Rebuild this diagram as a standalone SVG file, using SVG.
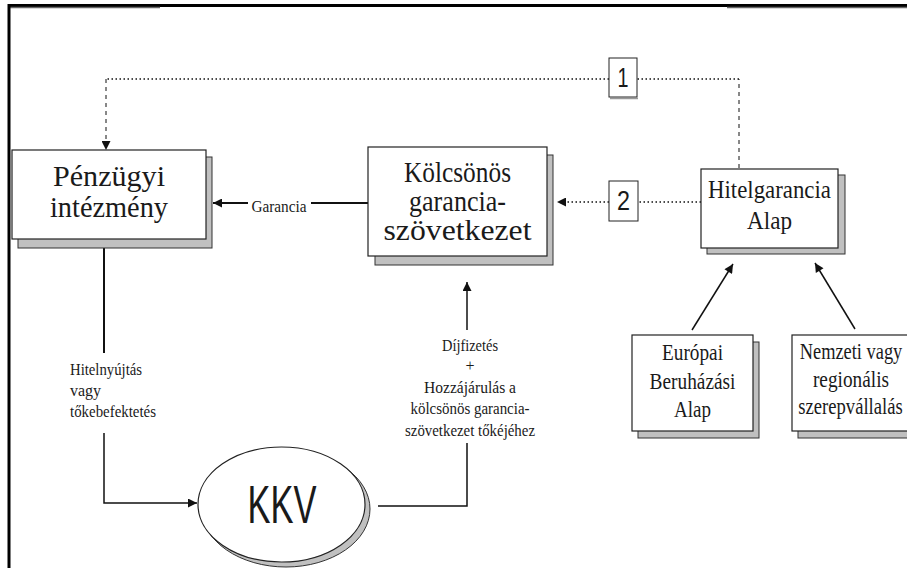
<svg xmlns="http://www.w3.org/2000/svg" width="907" height="568" viewBox="0 0 907 568">
<style>
.main{fill:#fff;stroke:#222;stroke-width:1.2}
.shad{fill:#c0c0c0;stroke:#333;stroke-width:1}
.t{fill:#1a1a1a;text-anchor:middle}
.ts{fill:#1a1a1a;text-anchor:start}
.big{font-size:29px}
.med{font-size:25px}
.sm{font-size:23px}
.lbl{font-size:16px}
.num{font-size:28px;fill:#1a1a1a;text-anchor:middle}
.kkv{font-size:53px;fill:#1a1a1a;text-anchor:middle}
.solid{fill:none;stroke:#111;stroke-width:1.5}
.thick{fill:none;stroke:#111;stroke-width:2}
.dot{fill:none;stroke:#111;stroke-width:1.5;stroke-dasharray:1.5 2.5}
.dash{fill:none;stroke:#111;stroke-width:1;stroke-dasharray:4 4}
</style>
<defs>
<marker id="ah" viewBox="0 0 10 10" refX="10" refY="5" markerWidth="11" markerHeight="9" markerUnits="userSpaceOnUse" orient="auto">
<path d="M0,0 L10,5 L0,10 z" fill="#111" stroke="none"/>
</marker>
</defs>
<g id="frame">
<line x1="8" y1="5.5" x2="907" y2="5.5" stroke="#000" stroke-width="3"/>
<line x1="10" y1="7.5" x2="160" y2="7.5" stroke="#666" stroke-width="1.5"/>
<line x1="727" y1="7.5" x2="907" y2="7.5" stroke="#666" stroke-width="1.5"/>
<line x1="9" y1="4" x2="9" y2="568" stroke="#000" stroke-width="3"/>
</g>
<g id="connectors" font-family="'Liberation Serif', 'DejaVu Serif', serif">
<path class="dash" d="M739 168 V79"/>
<path class="dot" d="M739 79 H637"/>
<path class="dot" d="M609 79 H106"/>
<path class="dash" d="M106 79 V150" marker-end="url(#ah)"/>
<path class="dot" d="M701 202 H638"/>
<path class="dot" d="M609 202 H557" marker-end="url(#ah)"/>
<path class="thick" d="M368 203 H311"/>
<path class="thick" d="M248 203 H213" marker-end="url(#ah)"/>
<text class="t lbl" x="279" y="212" textLength="55" lengthAdjust="spacingAndGlyphs">Garancia</text>
<path class="thick" d="M104 248 V353"/>
<path class="solid" d="M104 433 V503 H197" marker-end="url(#ah)"/>
<text class="ts lbl" x="70" y="375" textLength="72" lengthAdjust="spacingAndGlyphs">Hitelnyújtás</text>
<text class="ts lbl" x="70" y="396">vagy</text>
<text class="ts lbl" x="70" y="417" textLength="86" lengthAdjust="spacingAndGlyphs">tőkebefektetés</text>
<path class="solid" d="M378 506 H467 V443"/>
<path class="solid" d="M467 330 V282" marker-end="url(#ah)"/>
<text class="t lbl" x="470" y="351" textLength="56" lengthAdjust="spacingAndGlyphs">Díjfizetés</text>
<text class="t lbl" x="470" y="371">+</text>
<text class="t lbl" x="470" y="393" textLength="92" lengthAdjust="spacingAndGlyphs">Hozzájárulás  a</text>
<text class="t lbl" x="470" y="414" textLength="119" lengthAdjust="spacingAndGlyphs">kölcsönös garancia-</text>
<text class="t lbl" x="470" y="436" textLength="130" lengthAdjust="spacingAndGlyphs">szövetkezet tőkéjéhez</text>
<path class="solid" d="M692 330 L733 264" marker-end="url(#ah)"/>
<path class="solid" d="M855 329 L815 263" marker-end="url(#ah)"/>
</g>
<g id="box1" font-family="'Liberation Sans', Arial, sans-serif">
<line x1="610" y1="98.5" x2="638" y2="98.5" stroke="#999" stroke-width="1.5"/>
<rect x="609" y="58" width="28" height="39" fill="#fff" stroke="#222" stroke-width="1"/>
<text class="num" x="623" y="87" textLength="11" lengthAdjust="spacingAndGlyphs">1</text>
</g>
<g id="box2" font-family="'Liberation Sans', Arial, sans-serif">
<rect x="609" y="181" width="29" height="40" fill="#fff" stroke="#222" stroke-width="1"/>
<text class="num" x="623.5" y="210" textLength="13" lengthAdjust="spacingAndGlyphs">2</text>
</g>
<g id="penzugyi" font-family="'Liberation Serif', 'DejaVu Serif', serif">
<rect class="shad" x="18" y="157" width="194" height="91"/>
<rect class="main" x="12" y="150" width="194" height="89"/>
<text class="t big" x="109" y="186" textLength="112" lengthAdjust="spacingAndGlyphs">Pénzügyi</text>
<text class="t big" x="109" y="217" textLength="118" lengthAdjust="spacingAndGlyphs">intézmény</text>
</g>
<g id="kolcsonos" font-family="'Liberation Serif', 'DejaVu Serif', serif">
<rect class="shad" x="375" y="155" width="178" height="110"/>
<rect class="main" x="368" y="147" width="179" height="109"/>
<text class="t big" x="457.5" y="182" textLength="107" lengthAdjust="spacingAndGlyphs">Kölcsönös</text>
<text class="t big" x="457.5" y="211" textLength="97" lengthAdjust="spacingAndGlyphs">garancia-</text>
<text class="t big" x="457.5" y="240" textLength="148" lengthAdjust="spacingAndGlyphs">szövetkezet</text>
</g>
<g id="hitelgarancia" font-family="'Liberation Serif', 'DejaVu Serif', serif">
<rect class="shad" x="707" y="175" width="138" height="79"/>
<rect class="main" x="701" y="169" width="137" height="79"/>
<text class="t med" x="769.5" y="198" textLength="123" lengthAdjust="spacingAndGlyphs">Hitelgarancia</text>
<text class="t med" x="769.5" y="229" textLength="45" lengthAdjust="spacingAndGlyphs">Alap</text>
</g>
<g id="europai" font-family="'Liberation Serif', 'DejaVu Serif', serif">
<rect class="shad" x="638" y="342" width="121" height="96"/>
<rect class="main" x="632" y="335" width="121" height="96"/>
<text class="t sm" x="692.5" y="360" textLength="61" lengthAdjust="spacingAndGlyphs">Európai</text>
<text class="t sm" x="692.5" y="389" textLength="86" lengthAdjust="spacingAndGlyphs">Beruházási</text>
<text class="t sm" x="692.5" y="417" textLength="37" lengthAdjust="spacingAndGlyphs">Alap</text>
</g>
<g id="nemzeti" font-family="'Liberation Serif', 'DejaVu Serif', serif">
<rect class="shad" x="798" y="342" width="125" height="96"/>
<rect class="main" x="792" y="335" width="125" height="96"/>
<text class="t sm" transform="translate(851,359) scale(0.8,1)">Nemzeti vagy</text>
<text class="t sm" transform="translate(851,387) scale(0.84,1)">regionális</text>
<text class="t sm" transform="translate(850.5,414) scale(0.81,1)">szerepvállalás</text>
</g>
<g id="kkv" font-family="'Liberation Sans', Arial, sans-serif">
<ellipse class="shad" cx="286" cy="509" rx="84" ry="58"/>
<ellipse class="main" cx="281.5" cy="504.5" rx="83.5" ry="57.5"/>
<text class="kkv" x="282" y="523" textLength="69" lengthAdjust="spacingAndGlyphs">KKV</text>
</g>
</svg>
